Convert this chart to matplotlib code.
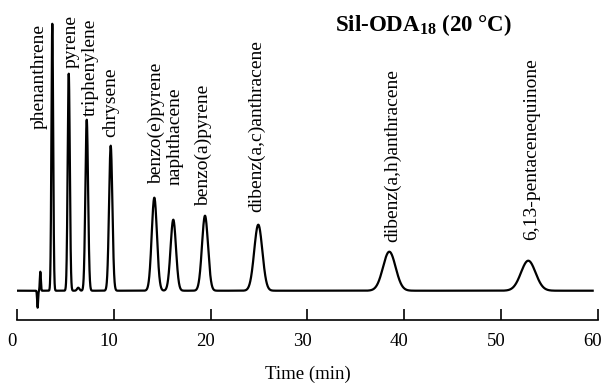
import numpy as np
import matplotlib
matplotlib.use("Agg")
import matplotlib.pyplot as plt
from matplotlib.transforms import ScaledTranslation

plt.rcParams['font.family'] = ['Liberation Serif', 'DejaVu Serif']
plt.rcParams['mathtext.fontset'] = 'custom'
plt.rcParams['mathtext.rm'] = 'Liberation Serif'
plt.rcParams['mathtext.bf'] = 'Liberation Serif:bold'

# peaks: retention time (min), height (a.u.), width sigma (min)
names = ['phenanthrene', 'pyrene', 'triphenylene', 'chrysene', 'benzo(e)pyrene',
         'naphthacene', 'benzo(a)pyrene', 'dibenz(a,c)anthracene',
         'dibenz(a,h)anthracene', '6,13-pentacenequinone']
rt = [3.62, 5.32, 7.18, 9.66, 14.17, 16.13, 19.41, 24.92, 38.47, 52.84]
height = [267, 217, 171, 145, 93, 71, 75, 66, 39, 30]
sigma = [0.09, 0.11, 0.14, 0.17, 0.27, 0.28, 0.31, 0.42, 0.65, 0.75]

# small unlabelled features (injection disturbance, minor impurity)
extra_rt = [2.10, 2.38, 6.30]
extra_height = [-17, 19, 3]
extra_sigma = [0.05, 0.05, 0.12]

t_start, t_end = 0.0, 59.5

# label offsets from peak apex: (dx in min, dy in a.u.)
label_dx = [-1.35, 0.25, 0.40, 0.0, 0.2, 0.2, -0.2, -0.15, 0.35, 0.35]
label_dy = [-105, 6, 4, 9, 14, 35, 10, 13, 10, 21]

t = np.linspace(t_start, t_end, 8000)
signal = np.zeros_like(t)
for r, h, s in zip(rt + extra_rt, height + extra_height, sigma + extra_sigma):
    signal += h * np.exp(-0.5 * ((t - r) / s) ** 2)

fig = plt.figure(figsize=(6.04, 3.85), dpi=100)
ax = fig.add_axes([17.3 / 604, 65 / 385, 580.2 / 604, 305 / 385])
ax.plot(t, signal, color='black', lw=1.6)

ax.set_xlim(0, 60)
ax.set_ylim(-29.3, 275.7)
for side in ['top', 'left', 'right']:
    ax.spines[side].set_visible(False)
ax.spines['bottom'].set_linewidth(1.2)
ax.set_yticks([])
ax.set_xticks(np.arange(0, 61, 10))
ax.tick_params(axis='x', direction='in', length=8, width=1.2, pad=9, labelsize=13.5)
ax.set_xlabel('Time (min)', fontsize=13.5, labelpad=12)

# tick labels sit a little left of their ticks in the original
shift = ScaledTranslation(-5 / 100, 0, fig.dpi_scale_trans)
for lab in ax.get_xticklabels():
    lab.set_transform(lab.get_transform() + shift)

for name, r, h, dx, dy in zip(names, rt, height, label_dx, label_dy):
    ax.text(r + dx, h + dy, name, rotation=90, rotation_mode='anchor',
            ha='left', va='center', fontsize=14)

fig.text(335 / 604, 1 - 31 / 385, r'Sil-ODA$_{\mathbf{18}}$ (20 °C)',
         fontsize=16.5, fontweight='bold', ha='left', va='baseline')

fig.savefig('out.png', dpi=100)
